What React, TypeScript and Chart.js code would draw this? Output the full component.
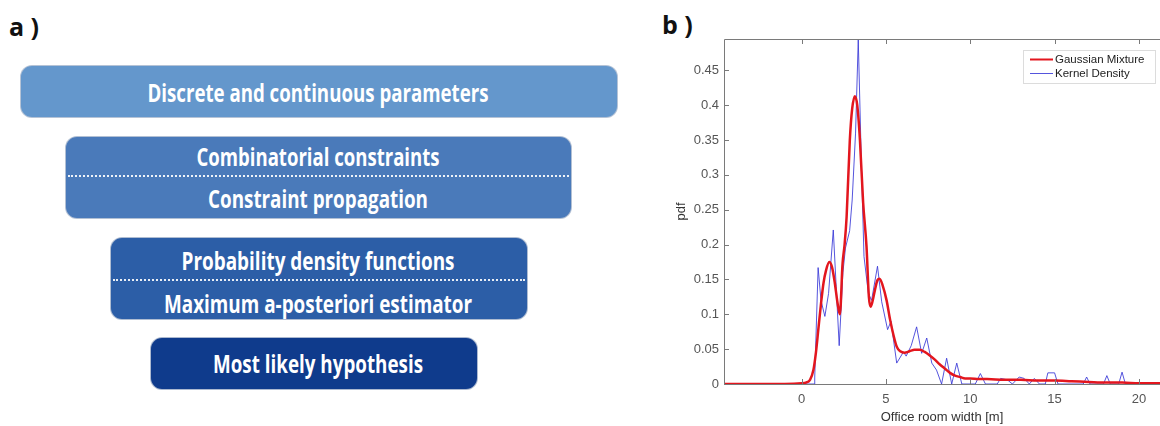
import React, { useEffect, useRef } from 'react';
import { Chart, registerables } from 'chart.js';

Chart.register(...registerables);

// ---------- data (panel b) ----------
const SERIES_LABELS = ['Gaussian Mixture', 'Kernel Density'];

const GMM_X = [-4.6, -1, 0, 0.25, 0.5, 0.7, 0.85, 1.0, 1.15, 1.3, 1.45, 1.64, 1.8, 1.97, 2.12, 2.27, 2.43, 2.55, 2.67, 2.86, 3.0, 3.16, 3.3, 3.46, 3.65, 3.85, 3.99, 4.09, 4.2, 4.35, 4.5, 4.62, 4.8, 5.04, 5.25, 5.45, 5.65, 5.85, 6.1, 6.4, 6.7, 7.0, 7.3, 7.6, 7.9, 8.2, 8.5, 8.8, 9.1, 9.4, 9.7, 10.0, 10.5, 11, 12, 13, 14, 15, 16, 17, 18, 19, 20, 21.25];
const GMM_Y = [0, 0, 0.001, 0.002, 0.006, 0.02, 0.045, 0.08, 0.115, 0.145, 0.163, 0.175, 0.168, 0.145, 0.118, 0.1, 0.173, 0.2, 0.24, 0.35, 0.395, 0.413, 0.4, 0.35, 0.26, 0.197, 0.125, 0.111, 0.118, 0.135, 0.149, 0.151, 0.142, 0.12, 0.092, 0.07, 0.053, 0.047, 0.045, 0.047, 0.049, 0.049, 0.046, 0.041, 0.035, 0.028, 0.022, 0.016, 0.012, 0.010, 0.008, 0.008, 0.007, 0.007, 0.006, 0.006, 0.005, 0.005, 0.004, 0.003, 0.002, 0.002, 0.001, 0.001];

const KDE_X = [-4.6, 0.75, 0.78, 0.98, 1.15, 1.38, 1.6, 1.88, 2.05, 2.23, 2.45, 2.6, 2.85, 3.0, 3.2, 3.36, 3.55, 3.7, 3.96, 4.15, 4.5, 4.75, 5.1, 5.3, 5.64, 6.04, 6.2, 6.5, 6.82, 7.12, 7.42, 7.72, 8.0, 8.3, 8.6, 8.9, 9.2, 9.5, 10.3, 10.6, 10.9, 11.6, 11.8, 12.2, 12.5, 12.9, 13.2, 13.5, 13.8, 14.1, 14.45, 14.6, 15.0, 15.2, 16.7, 16.9, 17.1, 17.9, 18.1, 18.3, 18.8, 19.0, 19.2, 21.25];
const KDE_Y = [0, 0, 0.01, 0.167, 0.12, 0.097, 0.13, 0.221, 0.14, 0.055, 0.16, 0.195, 0.22, 0.264, 0.36, 0.494, 0.312, 0.183, 0.13, 0.12, 0.169, 0.118, 0.078, 0.09, 0.03, 0.046, 0.04, 0.055, 0.082, 0.044, 0.066, 0.03, 0.02, 0, 0.037, 0, 0.03, 0, 0, 0.015, 0, 0, 0.008, 0.006, 0, 0.01, 0.008, 0, 0.008, 0, 0, 0.016, 0.016, 0, 0, 0.01, 0, 0, 0.012, 0, 0, 0.017, 0, 0];

const X_TICKS = [0, 5, 10, 15, 20];
const X_TICK_LABELS = ['0', '5', '10', '15', '20'];
const Y_TICKS = [0, 0.05, 0.1, 0.15, 0.2, 0.25, 0.3, 0.35, 0.4, 0.45];
const Y_TICK_LABELS = ['0', '0.05', '0.1', '0.15', '0.2', '0.25', '0.3', '0.35', '0.4', '0.45'];
const X_MIN = -4.6;
const X_MAX = 21.25;
const Y_MIN = 0;
const Y_MAX = 0.495;
const X_TITLE = 'Office room width [m]';
const Y_TITLE = 'pdf';

// ---------- diagram (panel a) ----------
const BOX_LINES = [
  ['Discrete and continuous parameters'],
  ['Combinatorial constraints', 'Constraint propagation'],
  ['Probability density functions', 'Maximum a-posteriori estimator'],
  ['Most likely hypothesis'],
];

const BOX_LAYOUT = [
  { left: 20, top: 65, right: 618, bottom: 118, color: '#6497cc', textY: [92], textW: [341], sepY: null },
  { left: 65, top: 136, right: 572, bottom: 219, color: '#4a7aba', textY: [156, 198], textW: [243, 220], sepY: 176 },
  { left: 110, top: 237, right: 528, bottom: 320, color: '#2c5ea7', textY: [260, 303], textW: [273, 308], sepY: 280 },
  { left: 150, top: 337, right: 478, bottom: 390, color: '#0f3b8c', textY: [363], textW: [210], sepY: null },
];

const TEXT_CX = 318;
const BOX_FONT = '700 25px "Open Sans", "DejaVu Sans", sans-serif';

let measureCtx: CanvasRenderingContext2D | null = null;
function measure(text: string, font: string): number {
  if (typeof document === 'undefined') return 0;
  if (!measureCtx) measureCtx = document.createElement('canvas').getContext('2d');
  if (!measureCtx) return 0;
  measureCtx.font = font;
  return measureCtx.measureText(text).width;
}

function FitText({ text, cx, cy, width }: { text: string; cx: number; cy: number; width: number }) {
  const w = measure(text, BOX_FONT) || width;
  const k = width / w;
  return (
    <div
      style={{
        position: 'absolute',
        left: cx,
        top: cy,
        transform: `translate(-50%, -50%) scaleX(${k})`,
        whiteSpace: 'nowrap',
        font: BOX_FONT,
        lineHeight: '1',
        color: '#ffffff',
      }}
    >
      {text}
    </div>
  );
}

const AXIS_COLOR = '#7a7a7a';
const TICK_COLOR = '#555555';
const GMM_COLOR = '#e3161e';
const KDE_COLOR = 'rgba(55,55,215,0.85)';

const matlabBox = {
  id: 'matlabBox',
  afterDatasetsDraw(chart: any) {
    const { ctx, chartArea, scales } = chart;
    const { left, right, top, bottom } = chartArea;
    const x = scales.x;
    const y = scales.y;
    ctx.save();
    ctx.strokeStyle = AXIS_COLOR;
    ctx.lineWidth = 1;
    ctx.beginPath();
    ctx.moveTo(left + 0.5, top + 0.5);
    ctx.lineTo(left + 0.5, bottom + 0.5);
    ctx.lineTo(right, bottom + 0.5);
    ctx.moveTo(left + 0.5, top + 0.5);
    ctx.lineTo(right, top + 0.5);
    X_TICKS.forEach((v) => {
      const px = Math.round(x.getPixelForValue(v)) + 0.5;
      ctx.moveTo(px, bottom);
      ctx.lineTo(px, bottom - 5);
      ctx.moveTo(px, top);
      ctx.lineTo(px, top + 5);
    });
    Y_TICKS.forEach((v) => {
      const py = Math.round(y.getPixelForValue(v)) + 0.5;
      ctx.moveTo(left, py);
      ctx.lineTo(left + 5, py);
    });
    ctx.stroke();

    // legend box (inside plot, top right)
    const lx = 363;
    const ly = 50;
    const lw = 132;
    const lh = 33;
    ctx.fillStyle = '#ffffff';
    ctx.fillRect(lx, ly, lw, lh);
    ctx.strokeStyle = '#dcdcdc';
    ctx.strokeRect(lx + 0.5, ly + 0.5, lw, lh);
    const ds = chart.data.datasets;
    ds.forEach((d: any, i: number) => {
      const yy = ly + 9.5 + i * 14;
      ctx.strokeStyle = d.borderColor;
      ctx.lineWidth = i === 0 ? 2 : 1;
      ctx.beginPath();
      ctx.moveTo(lx + 7, yy);
      ctx.lineTo(lx + 30, yy);
      ctx.stroke();
      ctx.fillStyle = '#222222';
      ctx.font = '11.5px "Liberation Sans", Arial, sans-serif';
      ctx.textBaseline = 'middle';
      ctx.textAlign = 'left';
      ctx.fillText(d.label, lx + 32, yy + 0.5);
    });
    ctx.restore();
  },
};

function PdfChart() {
  const ref = useRef<HTMLCanvasElement | null>(null);
  useEffect(() => {
    if (!ref.current) return;
    const gmm = GMM_X.map((xv, i) => ({ x: xv, y: GMM_Y[i] }));
    const kde = KDE_X.map((xv, i) => ({ x: xv, y: KDE_Y[i] }));
    const chart = new Chart(ref.current, {
      type: 'line',
      data: {
        datasets: [
          {
            label: SERIES_LABELS[0],
            data: gmm,
            borderColor: GMM_COLOR,
            borderWidth: 2.5,
            pointRadius: 0,
            cubicInterpolationMode: 'monotone',
            fill: false,
          },
          {
            label: SERIES_LABELS[1],
            data: kde,
            borderColor: KDE_COLOR,
            borderWidth: 1,
            pointRadius: 0,
            tension: 0,
            fill: false,
          },
        ],
      },
      options: {
        animation: false,
        responsive: false,
        devicePixelRatio: 1,
        layout: { padding: { top: 39, right: 0, bottom: 0, left: 0 } },
        plugins: { legend: { display: false }, tooltip: { enabled: false } },
        scales: {
          x: {
            type: 'linear',
            min: X_MIN,
            max: X_MAX,
            grid: { display: false, drawTicks: false },
            border: { display: false },
            afterBuildTicks: (s: any) => {
              s.ticks = X_TICKS.map((v) => ({ value: v }));
            },
            afterFit: (s: any) => {
              s.height = 42;
            },
            ticks: {
              autoSkip: false,
              maxRotation: 0,
              padding: 8,
              color: TICK_COLOR,
              font: { family: '"Liberation Sans", Arial, sans-serif', size: 13 },
              callback: (_v: any, i: number) => X_TICK_LABELS[i],
            },
            title: {
              display: true,
              text: X_TITLE,
              color: '#333333',
              font: { family: '"Liberation Sans", Arial, sans-serif', size: 13 },
              padding: { top: 0, bottom: 1 },
            },
          },
          y: {
            type: 'linear',
            min: Y_MIN,
            max: Y_MAX,
            grid: { display: false, drawTicks: false },
            border: { display: false },
            afterBuildTicks: (s: any) => {
              s.ticks = Y_TICKS.map((v) => ({ value: v }));
            },
            afterFit: (s: any) => {
              s.width = 64;
            },
            ticks: {
              autoSkip: false,
              padding: 5,
              color: TICK_COLOR,
              font: { family: '"Liberation Sans", Arial, sans-serif', size: 13 },
              callback: (_v: any, i: number) => Y_TICK_LABELS[i],
            },
            title: {
              display: true,
              text: Y_TITLE,
              color: '#333333',
              font: { family: '"Liberation Sans", Arial, sans-serif', size: 13 },
              padding: { top: 14, bottom: 0 },
            },
          },
        },
      },
      plugins: [matlabBox],
    } as any);
    return () => chart.destroy();
  }, []);
  return (
    <canvas
      ref={ref}
      width={500}
      height={426}
      style={{ position: 'absolute', left: 660, top: 0, width: 500, height: 426 }}
    />
  );
}

export default function App() {
  useEffect(() => {
    document.body.style.margin = '0';
  }, []);
  const panelLabel: React.CSSProperties = {
    position: 'absolute',
    font: '700 25px "Open Sans", "DejaVu Sans", sans-serif',
    color: '#111',
    lineHeight: '1',
    whiteSpace: 'pre',
  };
  return (
    <div style={{ position: 'relative', width: 1160, height: 426, background: '#fff', overflow: 'hidden' }}>
      <div style={{ ...panelLabel, left: 9, top: 14 }}>{'a )'}</div>
      <div style={{ ...panelLabel, left: 662, top: 12 }}>{'b )'}</div>
      {BOX_LAYOUT.map((b, i) => (
        <div
          key={'box' + i}
          style={{
            position: 'absolute',
            left: b.left,
            top: b.top,
            width: b.right - b.left,
            height: b.bottom - b.top,
            boxSizing: 'border-box',
            background: b.color,
            borderRadius: 12,
            border: '1px solid rgba(190,200,215,0.9)',
          }}
        />
      ))}
      {BOX_LAYOUT.map((b, i) =>
        b.sepY !== null ? (
          <div
            key={'sep' + i}
            style={{
              position: 'absolute',
              left: b.left + 3,
              top: (b.sepY as number) - 1,
              width: b.right - b.left - 6,
              height: 0,
              borderTop: '2px dotted rgba(255,255,255,0.9)',
            }}
          />
        ) : null
      )}
      {BOX_LAYOUT.map((b, i) =>
        BOX_LINES[i].map((t, j) => (
          <FitText key={'t' + i + '-' + j} text={t} cx={TEXT_CX} cy={b.textY[j]} width={b.textW[j]} />
        ))
      )}
      <PdfChart />
    </div>
  );
}
